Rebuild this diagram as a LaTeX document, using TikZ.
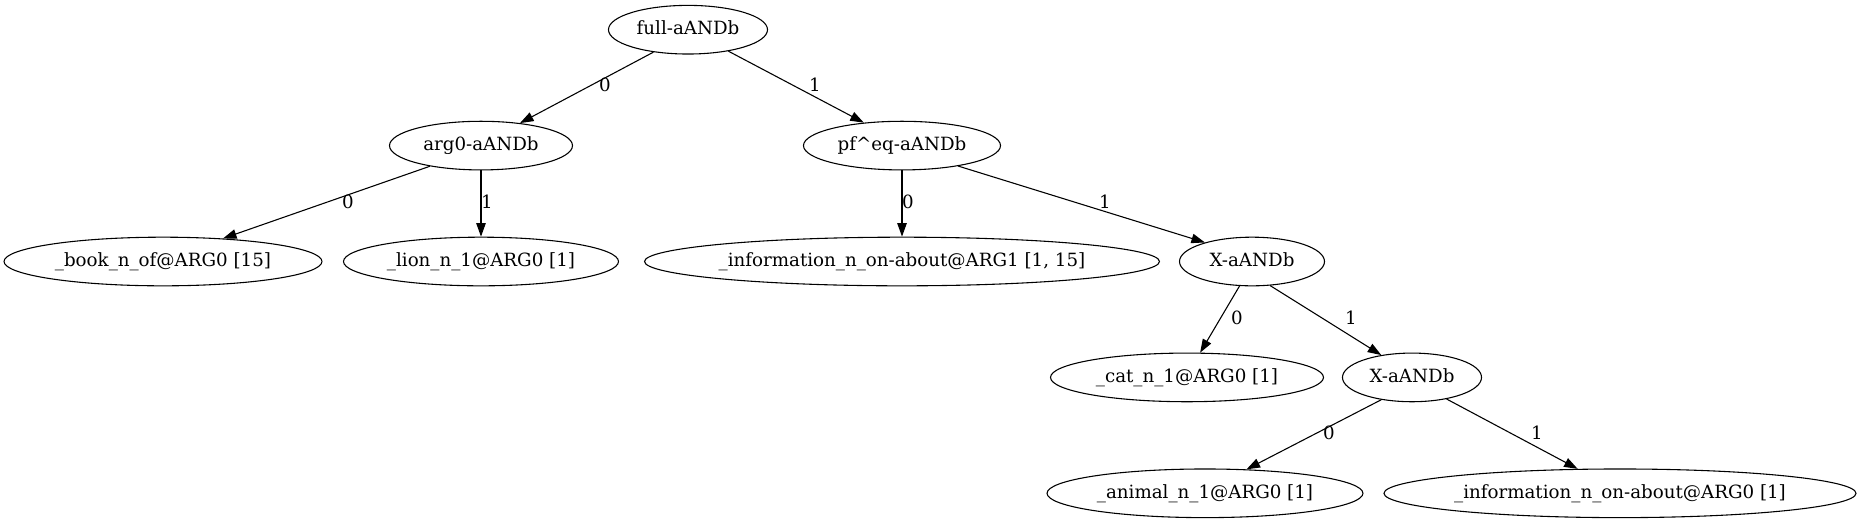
\documentclass[tikz,border=0pt]{standalone}
\usepackage{fontspec}
\setmainfont{DejaVu Serif}
\usetikzlibrary{arrows.meta,shapes.geometric}
\newcommand{\zl}[1]{\makebox[0pt]{#1}}
\begin{document}
\begin{tikzpicture}[x=0.74pt,y=-0.74pt,
 gnode/.style={draw, ellipse, line width=0.8pt, inner sep=0pt, minimum height=36pt,
   font=\fontsize{13.5}{16}\selectfont, text height=10pt, text depth=3pt},
 gedge/.style={draw, line width=0.8pt, -{Triangle[length=10pt,width=7pt]}},
 elab/.style={font=\fontsize{13.5}{16}\selectfont, inner sep=0pt}]
\useasboundingbox (0,0) rectangle (1861,523);
\node[gnode, minimum width=117.7pt] (full) at (688,29.7) {\zl{full-aANDb}};
\node[gnode, minimum width=135.4pt] (arg0) at (481,145.6) {\zl{arg0-aANDb}};
\node[gnode, minimum width=145.8pt] (pf) at (902,145.6) {\zl{pf\textasciicircum{}eq-aANDb}};
\node[gnode, minimum width=235.3pt] (book) at (163,261.5) {\zl{\_book\_n\_of@ARG0 [15]}};
\node[gnode, minimum width=203.5pt] (lion) at (481,261.5) {\zl{\_lion\_n\_1@ARG0 [1]}};
\node[gnode, minimum width=381.1pt] (info1) at (902,261.5) {\zl{\_information\_n\_on-about@ARG1 [1, 15]}};
\node[gnode, minimum width=107.3pt] (x1) at (1252,261.5) {\zl{X-aANDb}};
\node[gnode, minimum width=202pt] (cat) at (1187,377.4) {\zl{\_cat\_n\_1@ARG0 [1]}};
\node[gnode, minimum width=102.9pt] (x2) at (1412,377.4) {\zl{X-aANDb}};
\node[gnode, minimum width=233.8pt] (animal) at (1205,493.3) {\zl{\_animal\_n\_1@ARG0 [1]}};
\node[gnode, minimum width=349.3pt] (info0) at (1620,493.3) {\zl{\_information\_n\_on-about@ARG0 [1]}};

\draw[gedge] (full.213) -- (arg0.30);
\draw[gedge] (full.332) -- (pf.149);
\draw[gedge] (arg0.202) -- (book.21);
\draw[gedge] (arg0.south) -- (lion.north);
\draw[gedge] (pf.south) -- (info1.north);
\draw[gedge] (pf.340) -- (x1.158);
\draw[gedge] (x1.243) -- (cat.62);
\draw[gedge] (x1.307) -- (x2.144);
\draw[gedge] (x2.216) -- (animal.30);
\draw[gedge] (x2.328) -- (info0.150);

\node[elab] (l1) at (605,85) {0};
\node[elab] (l2) at (815,85) {1};
\node[elab] (l3) at (348,202) {0};
\node[elab] (l4) at (487,202) {1};
\node[elab] (l5) at (908,202) {0};
\node[elab] (l6) at (1105,202) {1};
\node[elab] (l7) at (1237,318) {0};
\node[elab] (l8) at (1351,318) {1};
\node[elab] (l9) at (1329,433) {0};
\node[elab] (l10) at (1537,433) {1};
\end{tikzpicture}
\end{document}
